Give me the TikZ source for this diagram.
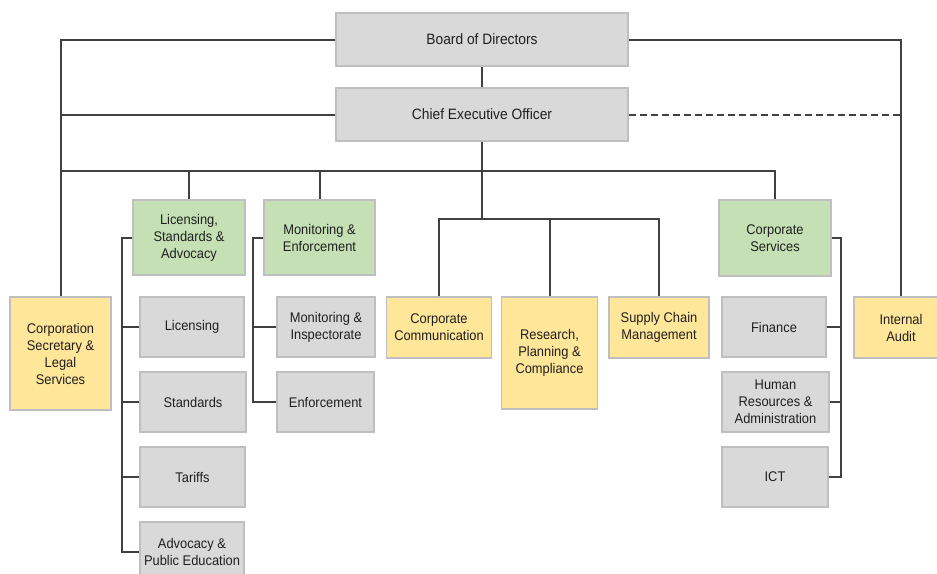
\documentclass[tikz,border=0pt]{standalone}
\usepackage{fontspec}
\setmainfont{Liberation Sans}[FakeStretch=0.92]
\definecolor{boxgray}{HTML}{D9D9D9}
\definecolor{boxgreen}{HTML}{C5E0B4}
\definecolor{boxyellow}{HTML}{FFE699}
\definecolor{boxline}{HTML}{BFBFBF}
\definecolor{conn}{HTML}{404040}
\definecolor{txt}{HTML}{1F1F1F}
\tikzset{
  box/.style={rectangle, draw=boxline, line width=1.5pt, align=center, text=txt,
    inner sep=0pt, font=\fontsize{14}{17}\selectfont},
  graybox/.style={box, fill=boxgray},
  greenbox/.style={box, fill=boxgreen},
  yellowbox/.style={box, fill=boxyellow},
  topbox/.style={graybox, font=\fontsize{15}{18}\selectfont},
  wire/.style={draw=conn, line width=2pt},
  dwire/.style={wire, dash pattern=on 7pt off 4pt}
}
\begin{document}
\begin{tikzpicture}[x=1pt,y=-1pt]
\useasboundingbox (0,0) rectangle (937,573);
\clip (0,0) rectangle (937,573);
\fill[white] (0,0) rectangle (937,573);

\coordinate (bus1) at (482,171);
\coordinate (bus2) at (482,219);
\coordinate (lb) at (122,0);
\coordinate (mb) at (253,0);
\coordinate (rb) at (841,0);

% nodes
\node[topbox, minimum width=292pt, minimum height=53pt] (board) at (482,39.5) {Board of Directors};
\node[topbox, minimum width=292pt, minimum height=53pt] (ceo) at (482,114.5) {Chief Executive Officer};

\node[greenbox, minimum width=112pt, minimum height=75pt] (lsa) at (189,237.5) {Licensing,\\Standards \&\\Advocacy};
\node[greenbox, minimum width=111pt, minimum height=75pt] (me) at (319.5,237.5) {Monitoring \&\\Enforcement};
\node[greenbox, minimum width=112pt, minimum height=76pt] (cs) at (775,238) {Corporate\\Services};

\node[yellowbox, minimum width=101pt, minimum height=113pt] (sec) at (60.5,353.5) {Corporation\\Secretary \&\\Legal\\Services};
\node[yellowbox, minimum width=105pt, minimum height=61pt] (cc) at (439,327.5) {Corporate\\Communication};
\node[yellowbox, minimum width=96pt, minimum height=112pt] (rpc) at (549.5,353) {Research,\\Planning \&\\Compliance};
\node[yellowbox, minimum width=100pt, minimum height=61pt] (scm) at (659,327.5) {Supply Chain\\Management};
\node[yellowbox, minimum width=94pt, minimum height=61pt] (ia) at (901,327.5) {Internal\\Audit};

\node[graybox, minimum width=104pt, minimum height=60pt] (lic) at (192,327) {Licensing};
\node[graybox, minimum width=106pt, minimum height=60pt] (std) at (193,402) {Standards};
\node[graybox, minimum width=105pt, minimum height=60pt] (tar) at (192.5,477) {Tariffs};
\node[graybox, minimum width=104pt, minimum height=60pt] (adv) at (192,552) {Advocacy \&\\Public Education};

\node[graybox, minimum width=98pt, minimum height=60pt] (mi) at (326,327) {Monitoring \&\\Inspectorate};
\node[graybox, minimum width=97pt, minimum height=60pt] (enf) at (325.5,402) {Enforcement};

\node[graybox, minimum width=104pt, minimum height=60pt] (fin) at (774,327) {Finance};
\node[graybox, minimum width=107pt, minimum height=60pt] (hr) at (775.5,402) {Human\\Resources \&\\Administration};
\node[graybox, minimum width=106pt, minimum height=60pt] (ict) at (775,477) {ICT};

% connectors
\draw[wire] (board.west) -| (sec.north);
\draw[wire] (ceo.west) -- (ceo.west -| sec.north);
\draw[wire] (board.south) -- (ceo.north);
\draw[wire] (sec.north |- bus1) -- (bus1 -| cs.north) -- (cs.north);
\draw[wire] (bus1 -| lsa.north) -- (lsa.north);
\draw[wire] (bus1 -| me.north) -- (me.north);
\draw[wire] (ceo.south) -- (bus2);
\draw[wire] (cc.north) -- (cc.north |- bus2) -- (scm.north |- bus2) -- (scm.north);
\draw[wire] (rpc.north |- bus2) -- (rpc.north);

\draw[wire] (lsa.west) -| (lb |- adv.west) -- (adv.west);
\draw[wire] (lb |- lic.west) -- (lic.west);
\draw[wire] (lb |- std.west) -- (std.west);
\draw[wire] (lb |- tar.west) -- (tar.west);

\draw[wire] (me.west) -| (mb |- enf.west) -- (enf.west);
\draw[wire] (mb |- mi.west) -- (mi.west);

\draw[wire] (cs.east) -| (rb |- ict.east) -- (ict.east);
\draw[wire] (rb |- fin.east) -- (fin.east);
\draw[wire] (rb |- hr.east) -- (hr.east);

\draw[wire] (board.east) -| (ia.north);
\draw[dwire] (ceo.east) -- (ceo.east -| ia.north);
\end{tikzpicture}
\end{document}
